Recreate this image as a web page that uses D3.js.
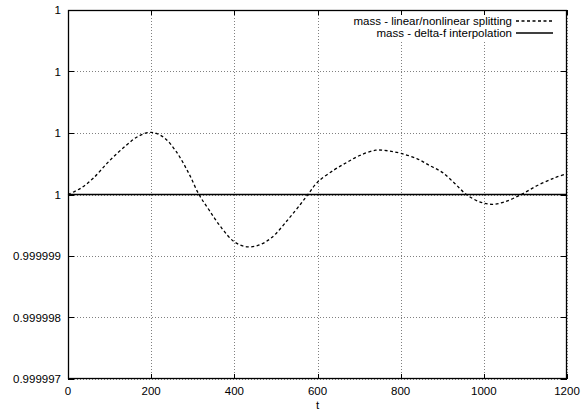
<!DOCTYPE html>
<html>
<head>
<meta charset="utf-8">
<script src="https://cdn.jsdelivr.net/npm/d3@7"></script>
<style>
  html, body { margin: 0; padding: 0; background: #fff; }
  svg { display: block; }
  text { font-family: "Liberation Sans", Arial, Helvetica, sans-serif; font-size: 11.5px; fill: #000; }
</style>
</head>
<body>
<svg id="chart" width="581" height="414"></svg>
<script>
// ---- data ----
const tValues = [0, 30, 60, 100, 140, 170, 200, 230, 260, 290, 315, 340, 370, 400, 430, 460, 490, 530, 560, 577,
                 600, 640, 670, 700, 740, 770, 800, 840, 870, 900, 930, 958, 990, 1020, 1050, 1090, 1130, 1170, 1200];
const massSplitting = [1.00000000, 1.00000010, 1.00000026, 1.00000055, 1.00000080, 1.00000095, 1.00000101, 1.00000093,
                       1.00000070, 1.00000035, 1.00000000, 0.99999974, 0.99999945, 0.99999923, 0.99999915, 0.99999918,
                       0.99999930, 0.99999960, 0.99999985, 1.00000000, 1.00000020, 1.00000040, 1.00000052, 1.00000063,
                       1.00000072, 1.00000071, 1.00000067, 1.00000058, 1.00000047, 1.00000036, 1.00000018, 1.00000000,
                       0.99999988, 0.99999984, 0.99999988, 1.00000000, 1.00000015, 1.00000027, 1.00000034];
const massDeltaF = [1.0, 1.0];
const tDeltaF = [0, 1200];
const xTicks = [0, 200, 400, 600, 800, 1000, 1200];
const xTickLabels = ["0", "200", "400", "600", "800", "1000", "1200"];
const yTicks = [0.999997, 0.999998, 0.999999, 1.0, 1.000001, 1.000002, 1.000003];
const yTickLabels = ["0.999997", "0.999998", "0.999999", "1", "1", "1", "1"];
const seriesNames = ["mass - linear/nonlinear splitting", "mass - delta-f interpolation"];
const xLabel = "t";

// ---- layout ----
const L = 68, R = 567, T = 10, B = 379;
const svg = d3.select("#chart");
const x = d3.scaleLinear().domain([0, 1200]).range([L, R]);
const y = d3.scaleLinear().domain([0.999997, 1.000003]).range([B, T]);

// grid
const grid = svg.append("g").attr("stroke", "#808080").attr("stroke-width", 1).attr("stroke-dasharray", "1,2");
xTicks.forEach(v => {
  grid.append("line").attr("x1", Math.round(x(v)) + 0.5).attr("x2", Math.round(x(v)) + 0.5)
    .attr("y1", B).attr("y2", T);
});
yTicks.forEach(v => {
  grid.append("line").attr("x1", L).attr("x2", R)
    .attr("y1", Math.round(y(v)) + 0.5).attr("y2", Math.round(y(v)) + 0.5);
});
// key area blanks the grid
svg.append("rect").attr("x", 330).attr("y", T + 1).attr("width", R - 331).attr("height", 29).attr("fill", "#fff");

// tick marks (inside, all four sides)
const ticks = svg.append("g").attr("stroke", "#000").attr("stroke-width", 1);
xTicks.forEach(v => {
  const xx = Math.round(x(v)) + 0.5;
  ticks.append("line").attr("x1", xx).attr("x2", xx).attr("y1", B).attr("y2", B - 5);
  ticks.append("line").attr("x1", xx).attr("x2", xx).attr("y1", T).attr("y2", T + 5);
});
yTicks.forEach(v => {
  const yy = Math.round(y(v)) + 0.5;
  ticks.append("line").attr("x1", L).attr("x2", L + 6).attr("y1", yy).attr("y2", yy);
  ticks.append("line").attr("x1", R).attr("x2", R - 6).attr("y1", yy).attr("y2", yy);
});

// series
const line = d3.line().x(d => x(d[0])).y(d => y(d[1])).curve(d3.curveMonotoneX);
svg.append("path").datum(tDeltaF.map((t, i) => [t, massDeltaF[i]]))
  .attr("d", line).attr("fill", "none").attr("stroke", "#000").attr("stroke-width", 1.3);
svg.append("path").datum(tValues.map((t, i) => [t, massSplitting[i]]))
  .attr("d", d3.line().x(d => x(d[0])).y(d => y(d[1])).curve(d3.curveCatmullRom))
  .attr("fill", "none").attr("stroke", "#000").attr("stroke-width", 1.3).attr("stroke-dasharray", "3,2.5");

// border
svg.append("rect").attr("x", L + 0.5).attr("y", T + 0.5).attr("width", R - L - 1).attr("height", B - T - 1)
  .attr("fill", "none").attr("stroke", "#000").attr("stroke-width", 1.3);

// tick labels
xTicks.forEach((v, i) => {
  svg.append("text").attr("x", x(v)).attr("y", 395).attr("text-anchor", "middle").text(xTickLabels[i]);
});
yTicks.forEach((v, i) => {
  svg.append("text").attr("x", 61).attr("y", y(v) + 4).attr("text-anchor", "end").text(yTickLabels[i]);
});
svg.append("text").attr("x", (L + R) / 2).attr("y", 409).attr("text-anchor", "middle").text(xLabel);

// legend
const key = svg.append("g");
const keyRows = [21, 33];
seriesNames.forEach((name, i) => {
  key.append("text").attr("x", 512).attr("y", keyRows[i] + 4).attr("text-anchor", "end").text(name);
  key.append("line").attr("x1", 516).attr("x2", 553).attr("y1", keyRows[i]).attr("y2", keyRows[i])
    .attr("stroke", "#000").attr("stroke-width", 1.3)
    .attr("stroke-dasharray", i === 0 ? "3,2.5" : null);
});
</script>
</body>
</html>
